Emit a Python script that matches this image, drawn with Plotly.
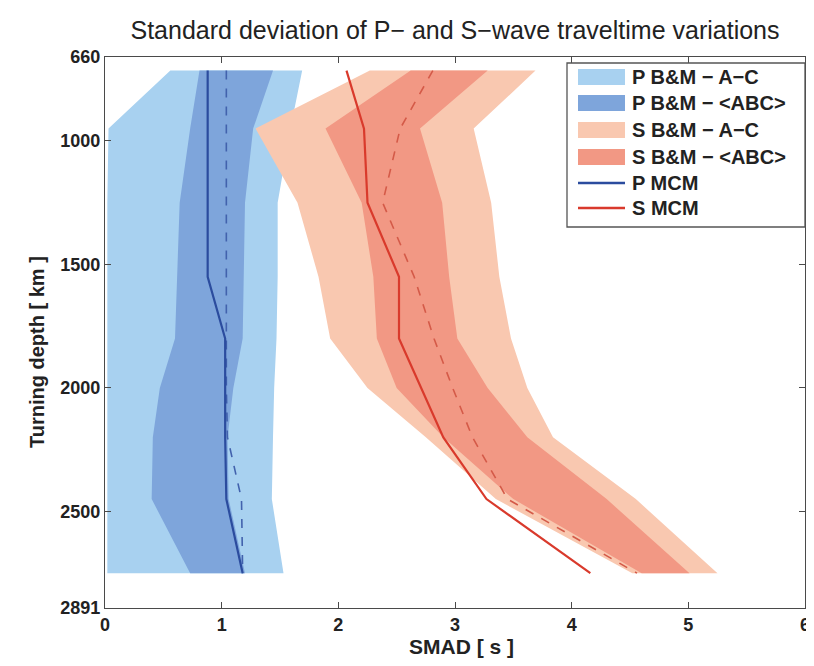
import plotly.graph_objects as go

# Depth grid (km) for the bands
depth = [715, 950, 1250, 1550, 1800, 2000, 2200, 2450, 2750]

# P-wave bands (SMAD, s)
p_ac_left = [0.56, 0.03, 0.02, 0.02, 0.02, 0.02, 0.02, 0.02, 0.02]
p_ac_right = [1.69, 1.59, 1.48, 1.48, 1.47, 1.45, 1.44, 1.43, 1.53]
p_abc_left = [0.81, 0.73, 0.64, 0.62, 0.60, 0.47, 0.41, 0.40, 0.73]
p_abc_right = [1.44, 1.27, 1.20, 1.19, 1.18, 1.10, 1.05, 1.06, 1.20]
p_dashed = [1.04, 1.04, 1.04, 1.04, 1.04, 1.04, 1.05, 1.17, 1.18]

# S-wave bands
s_ac_left = [2.27, 1.29, 1.65, 1.83, 1.93, 2.25, 2.75, 3.35, 4.52]
s_ac_right = [3.69, 3.16, 3.31, 3.38, 3.48, 3.62, 3.84, 4.55, 5.25]
s_abc_left = [2.62, 1.89, 2.20, 2.30, 2.33, 2.50, 2.90, 3.50, 4.60]
s_abc_right = [3.28, 2.70, 2.89, 2.95, 3.02, 3.28, 3.62, 4.30, 5.01]
s_dashed = [2.81, 2.53, 2.38, 2.65, 2.82, 2.98, 3.15, 3.45, 4.56]

# MCM curves
mcm_depth = [715, 950, 1250, 1550, 1800, 2200, 2450, 2750]
p_mcm = [0.88, 0.88, 0.88, 0.88, 1.03, 1.03, 1.04, 1.18]
s_mcm = [2.07, 2.22, 2.25, 2.52, 2.52, 2.90, 3.27, 4.16]

y_ticks = [660, 1000, 1500, 2000, 2500, 2891]
x_ticks = [0, 1, 2, 3, 4, 5, 6]

legend_labels = ["P B&M − A−C", "P B&M − &lt;ABC&gt;", "S B&M − A−C",
                 "S B&M − &lt;ABC&gt;", "P MCM", "S MCM"]

C_PAC, C_PABC, C_SAC, C_SABC = "#a8d1f0", "#7ea5db", "#f9c8b0", "#f29884"
C_PMCM, C_SMCM = "#2b4c9e", "#d93a2c"

FONT = "Liberation Sans, Arial, Helvetica, sans-serif"
OFF = 8  # default page body margin
W, H = 814 - OFF, 666 - OFF
L, R, T, B = 105 - OFF, 9, 57 - OFF, 58
PW, PH = W - L - R, H - T - B

fig = go.Figure()


def band(left, right, color):
    fig.add_trace(go.Scatter(
        x=left + right[::-1], y=depth + depth[::-1],
        fill="toself", fillcolor=color, mode="lines",
        line=dict(width=0, color=color), showlegend=False, hoverinfo="skip"))


band(p_ac_left, p_ac_right, C_PAC)
band(p_abc_left, p_abc_right, C_PABC)
band(s_ac_left, s_ac_right, C_SAC)
band(s_abc_left, s_abc_right, C_SABC)

fig.add_trace(go.Scatter(x=p_dashed, y=depth, mode="lines",
                         line=dict(color="#4262ad", width=1.6, dash="dash"),
                         showlegend=False))
fig.add_trace(go.Scatter(x=s_dashed, y=depth, mode="lines",
                         line=dict(color="#d45a48", width=1.6, dash="dash"),
                         showlegend=False))
fig.add_trace(go.Scatter(x=p_mcm, y=mcm_depth, mode="lines",
                         line=dict(color=C_PMCM, width=2.2), showlegend=False))
fig.add_trace(go.Scatter(x=s_mcm, y=mcm_depth, mode="lines",
                         line=dict(color=C_SMCM, width=2.2), showlegend=False))

axis_common = dict(showgrid=False, zeroline=False, showline=True,
                   linecolor="#4a4a4a", linewidth=1.2, mirror="ticks",
                   ticks="inside", ticklen=6, tickcolor="#4a4a4a", automargin=False,
                   tickfont=dict(family=FONT, size=18, color="#222", weight="bold"))

fig.update_xaxes(range=[0, 6], tickvals=x_ticks, **axis_common)
fig.update_yaxes(range=[2891, 660], tickvals=y_ticks, **axis_common)


# Positions given in page pixels, converted to paper coordinates
def px(xp):
    return (xp - OFF - L) / PW


def py(yp):
    return 1 - (yp - OFF - T) / PH


shapes = [dict(type="rect", xref="paper", yref="paper",
               x0=px(567), x1=px(805), y0=py(227), y1=py(63),
               fillcolor="white", line=dict(color="#555", width=1.3), layer="above")]
rows = [77, 103, 130, 157, 183, 208]
fills = [C_PAC, C_PABC, C_SAC, C_SABC]
for i, yc in enumerate(rows):
    if i < 4:
        shapes.append(dict(type="rect", xref="paper", yref="paper",
                           x0=px(578), x1=px(625), y0=py(yc + 8), y1=py(yc - 8),
                           fillcolor=fills[i], line=dict(width=0), layer="above"))
    else:
        col = C_PMCM if i == 4 else C_SMCM
        shapes.append(dict(type="line", xref="paper", yref="paper",
                           x0=px(578), x1=px(625), y0=py(yc), y1=py(yc),
                           line=dict(color=col, width=2.5), layer="above"))

annotations = [dict(text=lab, xref="paper", yref="paper", x=px(630), y=py(yc),
                    xanchor="left", yanchor="middle", showarrow=False,
                    font=dict(family=FONT, size=20, color="#222", weight="bold"))
               for lab, yc in zip(legend_labels, rows)]

# Axis titles
annotations.append(dict(text="SMAD [ s ]", xref="paper", yref="paper",
                        x=px(461), y=py(646), xanchor="center", yanchor="middle",
                        showarrow=False,
                        font=dict(family=FONT, size=21, color="#222", weight="bold")))
annotations.append(dict(text="Turning depth [ km ]", xref="paper", yref="paper",
                        x=px(37), y=py(352), xanchor="center", yanchor="middle",
                        textangle=-90, showarrow=False,
                        font=dict(family=FONT, size=20, color="#222", weight="bold")))

fig.update_layout(
    width=W, height=H,
    margin=dict(l=L, r=R, t=T, b=B, autoexpand=False),
    paper_bgcolor="white", plot_bgcolor="white",
    title=dict(text="Standard deviation of P− and S−wave traveltime variations",
               x=(455 - OFF) / W, xanchor="center", y=1 - (30 - OFF) / H, yanchor="middle",
               font=dict(family=FONT, size=25, color="#222")),
    showlegend=False,
    shapes=shapes,
    annotations=annotations,
)

fig.write_html("out.html")
